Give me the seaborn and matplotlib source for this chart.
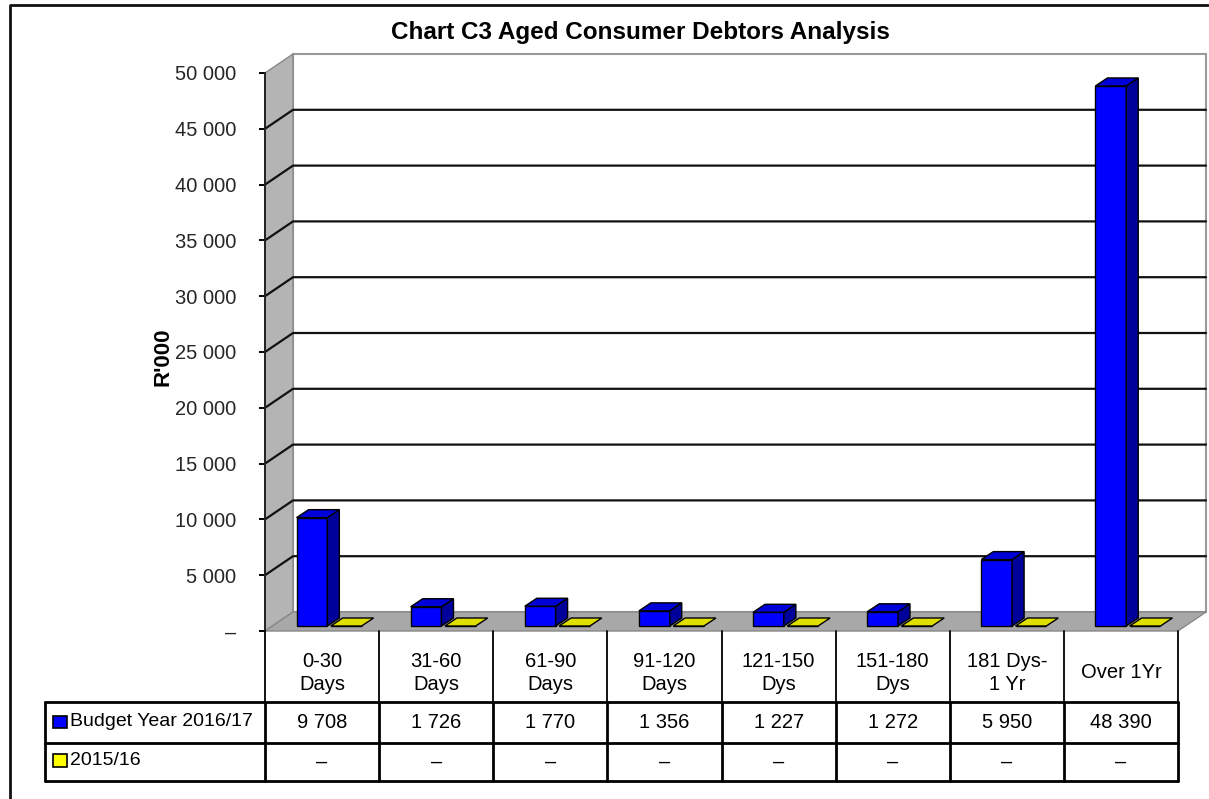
import matplotlib
matplotlib.use("Agg")
import matplotlib.pyplot as plt
from matplotlib import font_manager
from matplotlib.patches import Polygon, Rectangle
from matplotlib.lines import Line2D
import seaborn as sns
import pandas as pd

# ---------------- data ----------------
categories = ["0-30\nDays", "31-60\nDays", "61-90\nDays", "91-120\nDays",
              "121-150\nDys", "151-180\nDys", "181 Dys-\n1 Yr", "Over 1Yr"]
series_names = ["Budget Year 2016/17", "2015/16"]
budget_2016_17 = [9708, 1726, 1770, 1356, 1227, 1272, 5950, 48390]
prior_2015_16 = [0, 0, 0, 0, 0, 0, 0, 0]
budget_labels = ["9 708", "1 726", "1 770", "1 356", "1 227", "1 272", "5 950", "48 390"]
prior_labels = ["–"] * 8
ytick_values = [0, 5000, 10000, 15000, 20000, 25000, 30000, 35000, 40000, 45000, 50000]
ytick_labels = ["–", "5 000", "10 000", "15 000", "20 000", "25 000",
                "30 000", "35 000", "40 000", "45 000", "50 000"]
title = "Chart C3 Aged Consumer Debtors Analysis"
ylabel = "R'000"

# ---------------- style ----------------
sns.set_theme(style="white")
avail = {f.name for f in font_manager.fontManager.ttflist}
fam = [f for f in ["Liberation Sans Narrow", "Liberation Sans", "DejaVu Sans"] if f in avail]
plt.rcParams["font.family"] = fam
FS = 14.5

BLUE = "#0000FF"
BLUE_SIDE = "#00009A"
BLUE_TOP = "#0000D8"
YELLOW = "#FFFF00"
YELLOW_TOP = "#E0E000"
WALL = "#B4B4B4"
FLOOR = "#A8A8A8"

W, H = 1209, 799
fig = plt.figure(figsize=(W / 100, H / 100), dpi=100)
fig.patch.set_facecolor("white")

AX_L, AX_R, AX_T, AX_B = 265, 1178, 73, 631
ax = fig.add_axes([AX_L / W, 1 - AX_B / H, (AX_R - AX_L) / W, (AX_B - AX_T) / H])
n = len(categories)
ax.set_xlim(-0.5, n - 0.5)
ax.set_ylim(0, 50000)
ax.set_facecolor("none")

UX = n / (AX_R - AX_L)
UY = 50000 / (AX_B - AX_T)


def off(x, y, px, py):
    return (x + px * UX, y + py * UY)


def X(px):
    return -0.5 + (px - AX_L) * UX


def Y(py):
    return (AX_B - py) * UY


DX, DY = 28, 19  # wall depth in px

# walls and floor
x0, x1 = -0.5, n - 0.5
ax.add_patch(Polygon([(x0, 0), (x0, 50000), off(x0, 50000, DX, DY), off(x0, 0, DX, DY)],
                     closed=True, facecolor=WALL, edgecolor="#888888", lw=1, zorder=0.5, clip_on=False))
ax.add_patch(Polygon([off(x0, 0, DX, DY), off(x1, 0, DX, DY), off(x1, 50000, DX, DY), off(x0, 50000, DX, DY)],
                     closed=True, facecolor="white", edgecolor="#999999", lw=1.5, zorder=0.4, clip_on=False))
ax.add_patch(Polygon([(x0, 0), (x1, 0), off(x1, 0, DX, DY), off(x0, 0, DX, DY)],
                     closed=True, facecolor=FLOOR, edgecolor="#888888", lw=1, zorder=0.6, clip_on=False))

# gridlines on walls
for v in ytick_values[1:-1]:
    pts = [(x0, v), off(x0, v, DX, DY), off(x1, v, DX, DY)]
    ax.add_line(Line2D([p[0] for p in pts], [p[1] for p in pts], color="#111111",
                       lw=1.6, zorder=0.7, clip_on=False))

# bars via seaborn
df = pd.DataFrame({
    "cat": categories * 2,
    "value": budget_2016_17 + prior_2015_16,
    "series": [series_names[0]] * n + [series_names[1]] * n,
})
sns.barplot(data=df, x="cat", y="value", hue="series", order=categories,
            hue_order=series_names, palette=[BLUE, YELLOW], saturation=1,
            width=0.6, gap=0.1, edgecolor="black", linewidth=1, legend=False, ax=ax)
ax.set_xlim(-0.5, n - 0.5)
ax.set_ylim(0, 50000)

FX, FY = 7, 5      # bar front offset from floor front (px)
BX, BY = 12, 8     # bar depth (px)
for p in list(ax.patches):
    if not isinstance(p, Rectangle) or p.get_width() <= 0 or p.get_width() > 1:
        continue
    xa = p.get_x() + FX * UX
    w = p.get_width()
    h = p.get_height()
    ya = FY * UY
    p.set_x(xa)
    p.set_y(ya)
    p.set_zorder(3)
    p.set_clip_on(False)
    fc = p.get_facecolor()
    is_blue = fc[2] > 0.5
    side_c = BLUE_SIDE if is_blue else "#A0A000"
    top_c = BLUE_TOP if is_blue else YELLOW_TOP
    side = [(xa + w, ya), (xa + w, ya + h), off(xa + w, ya + h, BX, BY), off(xa + w, ya, BX, BY)]
    top = [(xa, ya + h), (xa + w, ya + h), off(xa + w, ya + h, BX, BY), off(xa, ya + h, BX, BY)]
    if h > 0:
        ax.add_patch(Polygon(side, closed=True, facecolor=side_c, edgecolor="black", lw=1,
                             zorder=3, clip_on=False))
    ax.add_patch(Polygon(top, closed=True, facecolor=top_c, edgecolor="black", lw=1,
                         zorder=3, clip_on=False))

# axes styling
for s in ["top", "right", "bottom"]:
    ax.spines[s].set_visible(False)
ax.spines["left"].set_color("#222222")
ax.spines["left"].set_linewidth(1.4)
ax.spines["left"].set_zorder(1)
ax.set_xticks([])
ax.set_xlabel("")
ax.set_ylabel("")
ax.set_yticks(ytick_values)
ax.set_yticklabels(ytick_labels, fontsize=FS)
ax.tick_params(axis="y", direction="out", length=4.5, width=1.4, color="black", pad=16, left=True)
ax.grid(False)

# ---------------- data table ----------------
tk = dict(color="black", clip_on=False, zorder=5)
for i in range(n + 1):
    xi = -0.5 + i
    ax.add_line(Line2D([xi, xi], [Y(631), Y(702)], lw=1.3, **tk))
    ax.add_line(Line2D([xi, xi], [Y(702), Y(781)], lw=2.0, **tk))
xl = X(45)
ax.add_line(Line2D([xl, xl], [Y(702), Y(781)], lw=2.0, **tk))
for py in [702, 743, 781]:
    ax.add_line(Line2D([xl, n - 0.5], [Y(py), Y(py)], lw=2.0, **tk))

for i, c in enumerate(categories):
    ax.text(i, Y(673), c, ha="center", va="center", fontsize=FS, linespacing=1.3,
            color="black", clip_on=False)
    ax.text(i, Y(722), budget_labels[i], ha="center", va="center", fontsize=FS,
            color="black", clip_on=False)
    ax.text(i, Y(762), prior_labels[i], ha="center", va="center", fontsize=FS,
            color="black", clip_on=False)

# legend keys in table
for (py0, py1), col, lab in [((716, 728), BLUE, series_names[0]), ((754, 767), YELLOW, series_names[1])]:
    ax.add_patch(Rectangle((X(53), Y(py1)), X(67) - X(53), Y(py0) - Y(py1),
                           facecolor=col, edgecolor="black", lw=1.2, clip_on=False, zorder=5))
    ax.text(X(70), (Y(py0) + Y(py1)) / 2, lab, ha="left", va="center", fontsize=FS - 0.5,
            color="black", clip_on=False)

# ---------------- title / labels / frame ----------------
fig.text(640 / W, 1 - 33 / H, title, ha="center", va="center", fontsize=17.5,
         fontweight="bold", color="black")
fig.text(163 / W, 1 - 357 / H, ylabel, ha="center", va="center", fontsize=16,
         fontweight="bold", rotation=90, color="black")
fig.add_artist(Line2D([10 / W, 10 / W, 1.0], [0.0, 1 - 5 / H, 1 - 5 / H],
                      transform=fig.transFigure, color="#111111", lw=2))

fig.savefig("out.png", dpi=100, facecolor="white")
